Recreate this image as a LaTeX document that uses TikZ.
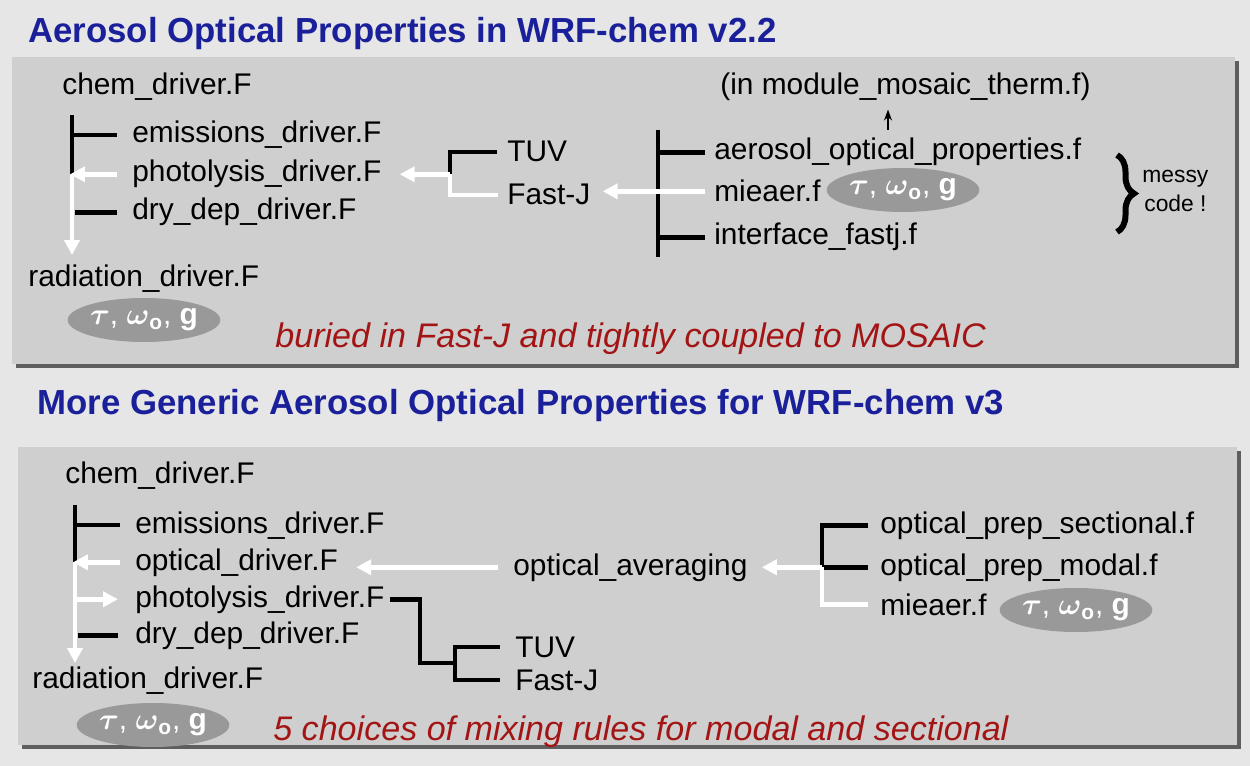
\documentclass[tikz,border=0pt]{standalone}
\usepackage{amsmath}
\usepackage{fontspec}
\setmainfont{Liberation Sans}
\usetikzlibrary{arrows.meta,shapes.geometric,decorations.pathreplacing,positioning}

\definecolor{outerbg}{HTML}{E6E6E6}
\definecolor{panelbg}{HTML}{CFCFCF}
\definecolor{shadowgray}{HTML}{5E5E5E}
\definecolor{titleblue}{HTML}{1A1F9A}
\definecolor{notered}{HTML}{A31515}
\definecolor{taggray}{HTML}{999999}

\tikzset{
  fname/.style={anchor=base west, inner sep=0pt, font=\fontsize{17}{20}\selectfont},
  smallnote/.style={anchor=base west, inner sep=0pt, font=\fontsize{13}{15}\selectfont},
  heading/.style={anchor=base west, inner sep=0pt, font=\fontsize{19.8}{24}\selectfont\bfseries, text=titleblue},
  remark/.style={anchor=base west, inner sep=0pt, font=\fontsize{19.4}{23}\selectfont\itshape, text=notered},
  tag/.style={ellipse, fill=taggray, text=white, inner sep=0pt, minimum width=2.72cm, minimum height=0.88cm, font=\fontsize{17}{20}\selectfont},
  treeline/.style={black, line width=0.09cm},
  flow/.style={white, line width=0.09cm},
  flowarrow/.style={flow, -{Triangle[length=0.3cm,width=0.3cm]}},
  pointer/.style={black, line width=0.028cm, -{Stealth[length=0.22cm,width=0.16cm]}},
  curly/.style={black, line width=0.12cm, decorate, decoration={brace, amplitude=0.34cm}},
}

\newcommand{\optprops}{$\boldsymbol{\tau}$, $\boldsymbol{\omega}_{\textbf{o}}$, \textbf{g}}

\begin{document}
\begin{tikzpicture}[x=0.02cm, y=-0.02cm]
    % Background and panels
    \fill[outerbg] (0,0) rectangle (1250,766);
    \useasboundingbox (0,0) rectangle (1250,766);
    \fill[shadowgray] (16,61) rectangle (1239,368);
    \fill[panelbg] (12,57) rectangle (1235,364);
    \fill[shadowgray] (22,451) rectangle (1241,749);
    \fill[panelbg] (18,447) rectangle (1237,745);

    % Panel 1: v2.2
    \node[heading] (head1) at (28,43) {Aerosol Optical Properties in WRF-chem v2.2};
    \node[fname] (chemA) at (62,95) {chem\_driver.F};
    \node[fname] (emisA) at (132,143) {emissions\_driver.F};
    \node[fname] (photA) at (132,182) {photolysis\_driver.F};
    \node[fname] (dryA) at (132,220) {dry\_dep\_driver.F};
    \node[fname] (radA) at (28,287) {radiation\_driver.F};
    \node[tag] (tagA) at (144,320) {\optprops};
    \node[remark] (noteA) at (275,348) {buried in Fast-J and tightly coupled to MOSAIC};

    \node[fname] (tuvA) at (507,162) {TUV};
    \node[fname] (fastA) at (507,205) {Fast-J};

    \node[fname] (modA) at (720,95) {(in module\_mosaic\_therm.f)};
    \node[fname] (aopA) at (714,160) {aerosol\_optical\_properties.f};
    \node[fname] (mieA) at (714,202) {mieaer.f};
    \node[fname] (intA) at (714,245) {interface\_fastj.f};
    \node[tag] (tagA2) at (903,190) {\optprops};
    \node[smallnote] (messyA) at (1142,183) {messy};
    \node[smallnote] (codeA) at (1144,212) {code !};

    % Driver tree (v2.2)
    \coordinate (trA) at (72,115);
    \draw[treeline] (trA) -- (trA |- photA.west);
    \draw[treeline] (trA |- emisA.west) -- ([xshift=-0.3cm]emisA.west);
    \draw[treeline] ([xshift=0.06cm]trA |- dryA.west) -- ([xshift=-0.3cm]dryA.west);
    \draw[flowarrow] ([xshift=-0.3cm]photA.west) -- ([xshift=-0.04cm]trA |- photA.west);
    \draw[flowarrow] (trA |- photA.west) -- ([yshift=0.2cm]trA |- radA.north);

    % Photolysis options (v2.2)
    \coordinate (brA) at (450,150);
    \draw[treeline] ([xshift=-0.2cm]tuvA.west) -| (brA |- photA.west);
    \draw[flow] ([xshift=-0.18cm]fastA.west) -| (brA |- photA.west);
    \draw[flowarrow] (brA |- photA.west) -- ([xshift=0.36cm]photA.east |- photA.west);

    % Mosaic files (v2.2)
    \coordinate (trB) at (658,130);
    \coordinate (trBend) at (658,257);
    \draw[treeline] (trB) -- (trBend);
    \draw[treeline] (trB |- aopA.west) -- ([xshift=-0.18cm]aopA.west);
    \draw[treeline] (trB |- intA.west) -- ([xshift=-0.18cm]intA.west);
    \draw[flowarrow] ([xshift=-0.18cm]mieA.west) -- ([xshift=0.24cm]fastA.east |- mieA.west);
    \coordinate (modarrow) at (888,130);
    \draw[pointer, shorten >=0.16cm] (modarrow) -- (modarrow |- modA.south);
    \coordinate (braceTop) at (1117,155);
    \coordinate (braceBot) at (1117,232);
    \draw[curly] (braceTop) -- (braceBot);

    % Panel 2: v3
    \node[heading] (head2) at (37,415) {More Generic Aerosol Optical Properties for WRF-chem v3};
    \node[fname] (chemB) at (65,483) {chem\_driver.F};
    \node[fname] (emisB) at (135,533) {emissions\_driver.F};
    \node[fname] (optB) at (135,570) {optical\_driver.F};
    \node[fname] (photB) at (135,607) {photolysis\_driver.F};
    \node[fname] (dryB) at (135,643) {dry\_dep\_driver.F};
    \node[fname] (radB) at (32,688) {radiation\_driver.F};
    \node[tag] (tagB) at (153,725) {\optprops};
    \node[remark] (noteB) at (273,740) {5 choices of mixing rules for modal and sectional};

    \node[fname] (avgB) at (513,575) {optical\_averaging};
    \node[fname] (tuvB) at (515,657) {TUV};
    \node[fname] (fastB) at (515,690) {Fast-J};

    \node[fname] (sectB) at (880,533) {optical\_prep\_sectional.f};
    \node[fname] (modB) at (880,575) {optical\_prep\_modal.f};
    \node[fname] (mieB) at (880,615) {mieaer.f};
    \node[tag] (tagB2) at (1076,610) {\optprops};

    % Driver tree (v3)
    \coordinate (trC) at (75,505);
    \draw[treeline] (trC) -- (trC |- optB.west);
    \draw[treeline] (trC |- emisB.west) -- ([xshift=-0.3cm]emisB.west);
    \draw[treeline] ([xshift=0.06cm]trC |- dryB.west) -- ([xshift=-0.34cm]dryB.west);
    \draw[flowarrow] ([xshift=-0.3cm]optB.west) -- ([xshift=-0.04cm]trC |- optB.west);
    \draw[flowarrow] (trC |- photB.west) -- ([xshift=-0.34cm]photB.west);
    \draw[flowarrow] (trC |- optB.west) -- ([yshift=0.06cm]trC |- radB.north);
    \draw[flowarrow] ([xshift=-0.3cm]avgB.west) -- ([xshift=0.36cm]optB.east |- avgB.west);

    % Photolysis options (v3)
    \coordinate (elbowB) at (420,663);
    \coordinate (brB) at (455,648);
    \draw[treeline] ([xshift=0.1cm]photB.east) -| (elbowB) -- (elbowB -| brB);
    \draw[treeline] ([xshift=-0.3cm]tuvB.west) -| (brB |- fastB.west) -- ([xshift=-0.3cm]fastB.west);

    % Optical prep files (v3)
    \coordinate (trD) at (822,525);
    \draw[treeline] ([xshift=-0.24cm]sectB.west) -| (trD |- modB.west) -- ([xshift=-0.24cm]modB.west);
    \draw[flow] ([xshift=-0.24cm]mieB.west) -| (trD |- modB.west);
    \draw[flowarrow] (trD |- modB.west) -- ([xshift=0.28cm]avgB.east |- modB.west);
\end{tikzpicture}
\end{document}
